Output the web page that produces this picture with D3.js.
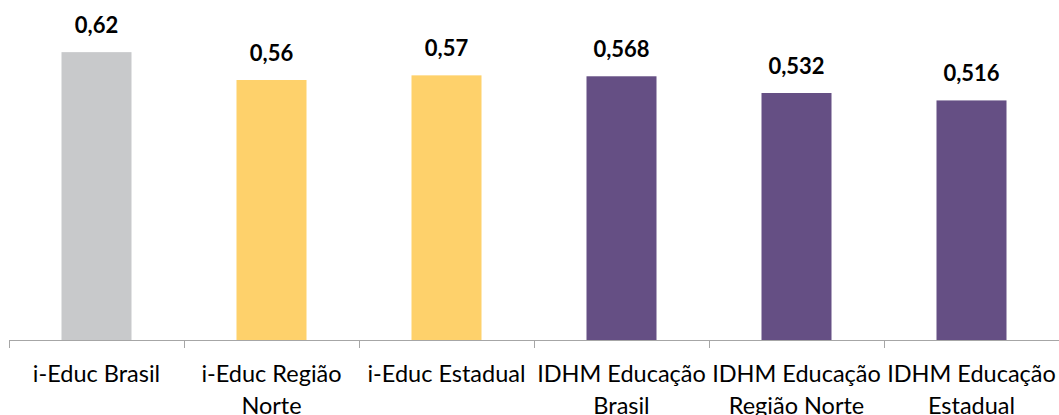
<!DOCTYPE html>
<html>
<head>
<meta charset="utf-8">
<script src="https://cdn.jsdelivr.net/npm/d3@7"></script>
<style>
  body { margin: 0; background: #fff; }
  svg { display: block; font-family: Lato, "Open Sans", sans-serif; }
</style>
</head>
<body>
<script>
const width = 1059;
const height = 415;

const categories = ['i-Educ Brasil', 'i-Educ Região Norte', 'i-Educ Estadual',
  'IDHM Educação Brasil', 'IDHM Educação Região Norte', 'IDHM Educação Estadual'];
const values = [0.62, 0.56, 0.57, 0.568, 0.532, 0.516];
const valueLabels = ['0,62', '0,56', '0,57', '0,568', '0,532', '0,516'];
const groups = ['brasil', 'ieduc', 'ieduc', 'idhm', 'idhm', 'idhm'];

const colour = d3.scaleOrdinal()
  .domain(['brasil', 'ieduc', 'idhm'])
  .range(['#c8c9cb', '#fed16b', '#654f84']);

const x = d3.scaleBand().domain(categories).range([9, 1059]).paddingInner(0.6).paddingOuter(0.3);
const y = d3.scaleLinear().domain([0, 0.7]).range([340, 15]);

const svg = d3.select('body').append('svg')
  .attr('width', width)
  .attr('height', height);

svg.selectAll('rect.bar')
  .data(values)
  .join('rect')
  .attr('class', 'bar')
  .attr('x', (d, i) => x(categories[i]))
  .attr('y', (d) => y(d))
  .attr('width', x.bandwidth())
  .attr('height', (d) => y(0) - y(d))
  .attr('fill', (d, i) => colour(groups[i]));

svg.selectAll('text.val')
  .data(values)
  .join('text')
  .attr('class', 'val')
  .attr('x', (d, i) => x(categories[i]) + x.bandwidth() / 2)
  .attr('y', (d) => y(d) - 19)
  .attr('text-anchor', 'middle')
  .attr('font-size', 22)
  .attr('font-weight', 'bold')
  .attr('fill', '#000')
  .text((d, i) => valueLabels[i]);

// category axis: line plus ticks on band boundaries
const step = x.step();
const edges = d3.range(categories.length + 1).map((i) => 9 + i * step);
const axis = svg.append('g').attr('stroke', '#a6a6a6').attr('stroke-width', 1);
axis.append('line')
  .attr('x1', 9).attr('x2', 1059)
  .attr('y1', 340.5).attr('y2', 340.5);
axis.selectAll('line.tick')
  .data(edges)
  .join('line')
  .attr('class', 'tick')
  .attr('x1', (d) => Math.round(d) + 0.5).attr('x2', (d) => Math.round(d) + 0.5)
  .attr('y1', 340).attr('y2', 348);

const labels = svg.selectAll('text.cat')
  .data(categories)
  .join('text')
  .attr('class', 'cat')
  .attr('x', (d) => x(d) + x.bandwidth() / 2)
  .attr('y', 382)
  .attr('text-anchor', 'middle')
  .attr('font-size', 23.5)
  .attr('fill', '#000');

// wrap labels into the band width
labels.each(function (d) {
  const text = d3.select(this);
  const words = d.split(' ');
  let line = [];
  let tspan = text.append('tspan').attr('x', text.attr('x')).attr('dy', 0);
  words.forEach((w) => {
    line.push(w);
    tspan.text(line.join(' '));
    if (tspan.node().getComputedTextLength() > step && line.length > 1) {
      line.pop();
      tspan.text(line.join(' '));
      line = [w];
      tspan = text.append('tspan').attr('x', text.attr('x')).attr('dy', 32).text(w);
    }
  });
});
</script>
</body>
</html>
